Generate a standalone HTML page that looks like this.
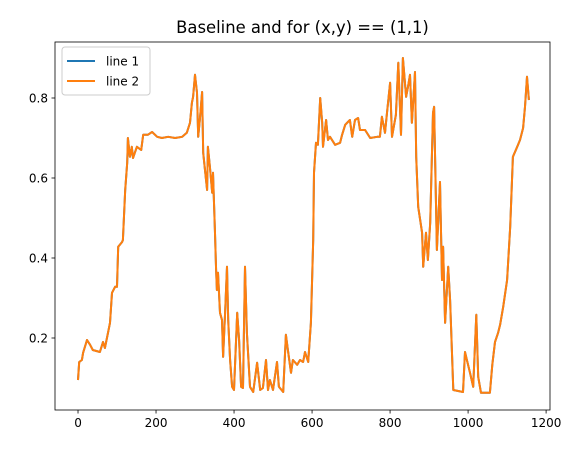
<!DOCTYPE html>
<html><head><meta charset="utf-8"><style>
body{margin:0;background:#fff;}
svg text{font-family:"DejaVu Sans","Liberation Sans",sans-serif;fill:#000;}
</style></head><body>
<svg id="chart" width="586" height="455" viewBox="0 0 586 455" xmlns="http://www.w3.org/2000/svg">
<rect width="586" height="455" fill="#fff"/>
<text x="302.5" y="33" font-size="16.4" text-anchor="middle">Baseline and for (x,y) == (1,1)</text>
<g id="plot"></g>
</svg>
<script>
const xTicks = [0, 200, 400, 600, 800, 1000, 1200];
const yTicks = [0.2, 0.4, 0.6, 0.8];
const seriesX = [0,3,10,13,23,31,38,56,64,69,77,82,87,95,100,103,113,115,121,126,128,133,138,141,151,162,167,179,190,203,215,231,249,267,279,287,292,295,300,305,308,313,318,321,326,331,333,338,344,346,351,354,356,359,364,369,372,377,382,385,390,395,400,408,413,418,423,428,433,441,449,459,467,474,482,487,492,500,510,515,526,533,538,546,551,562,569,577,582,590,597,603,605,610,615,621,626,628,636,641,646,659,672,677,685,692,697,703,710,718,723,736,749,767,774,779,787,792,800,805,815,821,828,833,841,846,851,856,864,867,872,882,885,892,897,903,910,913,920,928,933,936,941,949,954,962,987,992,997,1005,1013,1021,1026,1033,1056,1062,1069,1077,1082,1090,1100,1108,1115,1126,1133,1141,1146,1151,1156];
const line1Y = [0.095,0.14,0.145,0.163,0.195,0.183,0.17,0.165,0.19,0.175,0.213,0.238,0.313,0.328,0.328,0.428,0.44,0.445,0.57,0.638,0.70,0.653,0.678,0.65,0.678,0.67,0.708,0.708,0.715,0.703,0.70,0.703,0.70,0.703,0.713,0.738,0.788,0.803,0.858,0.813,0.703,0.753,0.815,0.663,0.615,0.57,0.678,0.628,0.563,0.613,0.47,0.37,0.32,0.363,0.263,0.245,0.153,0.263,0.378,0.245,0.145,0.078,0.07,0.263,0.195,0.078,0.075,0.378,0.213,0.078,0.065,0.138,0.07,0.075,0.145,0.07,0.095,0.07,0.14,0.078,0.065,0.208,0.17,0.113,0.145,0.133,0.145,0.14,0.165,0.14,0.238,0.445,0.613,0.688,0.683,0.80,0.738,0.678,0.745,0.695,0.703,0.683,0.688,0.708,0.733,0.74,0.745,0.703,0.745,0.75,0.72,0.72,0.70,0.703,0.703,0.753,0.713,0.763,0.838,0.703,0.758,0.888,0.708,0.90,0.803,0.828,0.858,0.738,0.865,0.653,0.528,0.463,0.378,0.463,0.395,0.488,0.763,0.778,0.42,0.59,0.345,0.428,0.238,0.378,0.295,0.07,0.065,0.165,0.145,0.113,0.078,0.258,0.103,0.063,0.063,0.133,0.19,0.213,0.233,0.278,0.345,0.478,0.653,0.678,0.695,0.725,0.778,0.853,0.795];
const line2Y = line1Y.slice();

const L=55,R=550,T=42,B=410;
const xMin=-59,xMax=1210,yMin=0.02,yMax=0.94;
const sx=v=>L+(v-xMin)/(xMax-xMin)*(R-L);
const sy=v=>B-(v-yMin)/(yMax-yMin)*(B-T);
const NS="http://www.w3.org/2000/svg";
const g=document.getElementById('plot');
function mk(tag,attrs){const e=document.createElementNS(NS,tag);for(const k in attrs)e.setAttribute(k,attrs[k]);g.appendChild(e);return e;}

function drawLine(ys,color,name){
  const d=seriesX.map((x,i)=>(i?'L':'M')+sx(x).toFixed(1)+','+sy(ys[i]).toFixed(1)).join('');
  const p=mk('path',{d:d,fill:'none',stroke:color,'stroke-width':2,'stroke-linejoin':'round'});
  
  
}
drawLine(line1Y,'#1f77b4','line-1');
drawLine(line2Y,'#ff7f0e','line-2');

const frame=mk('rect',{x:L,y:T,width:R-L,height:B-T,fill:'none',stroke:'#000','stroke-width':0.8});



xTicks.forEach(v=>{
  const x=sx(v);
  const t=mk('line',{x1:x,x2:x,y1:B,y2:B+3.5,stroke:'#000','stroke-width':0.8});
  
  
  const lb=mk('text',{x:x,y:B+17,'font-size':12,'text-anchor':'middle'});
  lb.textContent=v;
  
  
});
yTicks.forEach(v=>{
  const y=sy(v);
  const t=mk('line',{x1:L-3.5,x2:L,y1:y,y2:y,stroke:'#000','stroke-width':0.8});
  
  
  const lb=mk('text',{x:L-7,y:y+4.5,'font-size':12,'text-anchor':'end'});
  lb.textContent=v.toFixed(1);
  
  
});

const lg=mk('rect',{x:62,y:47,width:88,height:48,rx:3,fill:'#fff','fill-opacity':0.8,stroke:'#ccc','stroke-width':1});


[['line 1','#1f77b4',61],['line 2','#ff7f0e',81]].forEach(([n,c,y])=>{
  const ln=mk('line',{x1:67,x2:95,y1:y,y2:y,stroke:c,'stroke-width':2});
  
  
  const tx=mk('text',{x:106,y:y+4.5,'font-size':12});
  tx.textContent=n;
  
  
});
</script>
</body></html>
